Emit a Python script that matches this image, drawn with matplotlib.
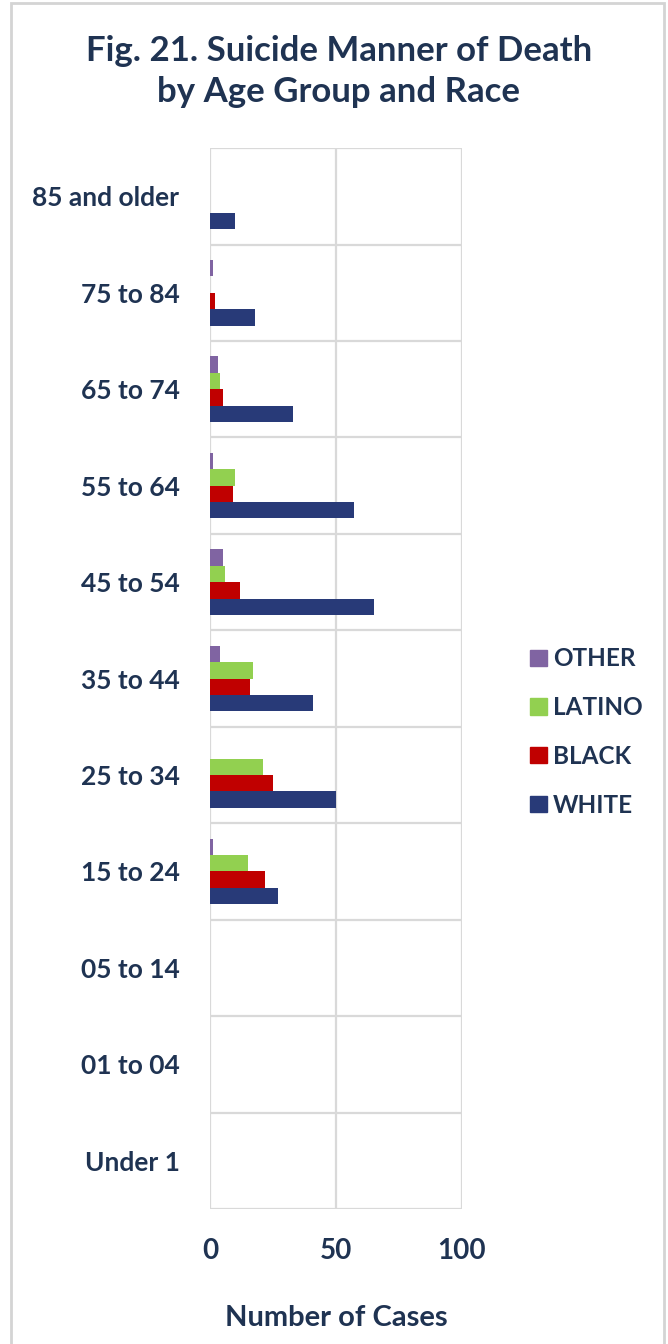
import matplotlib
matplotlib.use("Agg")
import matplotlib.pyplot as plt
import numpy as np
from matplotlib.patches import Rectangle, Patch

plt.rcParams['font.family'] = ['Lato', 'DejaVu Sans']

age_groups = ["Under 1", "01 to 04", "05 to 14", "15 to 24", "25 to 34", "35 to 44",
              "45 to 54", "55 to 64", "65 to 74", "75 to 84", "85 and older"]
white = [0, 0, 0, 27, 50, 41, 65, 57, 33, 18, 10]
black = [0, 0, 0, 22, 25, 16, 12, 9, 5, 2, 0]
latino = [0, 0, 0, 15, 21, 17, 6, 10, 4, 0, 0]
other = [0, 0, 0, 1, 0, 4, 5, 1, 3, 1, 0]

text_col = "#1F3352"
grid_col = "#D9D9D9"
series = [("WHITE", white, "#283A78"), ("BLACK", black, "#C00000"),
          ("LATINO", latino, "#92D050"), ("OTHER", other, "#8064A2")]

fig = plt.figure(figsize=(6.68, 13.44), dpi=100)
# light frame around the whole chart
fig.patches.append(Rectangle((0.0165, -0.01), 0.977, 1.0075, transform=fig.transFigure,
                             fill=False, edgecolor="#D4D4D4", linewidth=2))
ax = fig.add_axes([0.3144, 0.1004, 0.3772, 0.7894])

y = np.arange(len(age_groups))
h = 0.17
for i, (name, vals, col) in enumerate(series):
    ax.barh(y + (i - 1.5) * h, vals, height=h, color=col, label=name, zorder=3)

ax.set_xlim(0, 100)
ax.set_ylim(-0.5, len(age_groups) - 0.5)
ax.set_xticks([0, 50, 100])
ax.set_yticks(y)
ax.set_yticklabels(age_groups)
ax.set_yticks(np.arange(-0.5, len(age_groups), 1), minor=True)
ax.grid(axis='x', color=grid_col, linewidth=1.6, zorder=0)
ax.grid(axis='y', which='minor', color=grid_col, linewidth=1.6, zorder=0)
ax.tick_params(axis='both', which='both', length=0)
ax.tick_params(axis='y', pad=22, labelsize=19, labelcolor=text_col)
ax.tick_params(axis='x', pad=21, labelsize=20, labelcolor=text_col)
for lbl in ax.get_xticklabels() + ax.get_yticklabels():
    lbl.set_fontweight('bold')
for s in ax.spines.values():
    s.set_visible(False)

ax.set_xlabel("Number of Cases", fontsize=21, fontweight='bold', color=text_col, labelpad=29)

fig.text(0.507, 0.947, "Fig. 21. Suicide Manner of Death\nby Age Group and Race",
         ha='center', va='center', fontsize=25, fontweight='bold', color=text_col,
         linespacing=1.33)

handles = [Patch(color=c, label=n) for n, _, c in series][::-1]
leg = fig.legend(handles=handles, loc='center left', bbox_to_anchor=(0.7934, 0.4554),
                 frameon=False, borderpad=0, borderaxespad=0,
                 handlelength=0.7, handleheight=0.66, handletextpad=0.25,
                 labelspacing=1.06, prop={'size': 17.5, 'weight': 'bold'})
for t in leg.get_texts():
    t.set_color(text_col)

fig.savefig("out.png", dpi=100)
